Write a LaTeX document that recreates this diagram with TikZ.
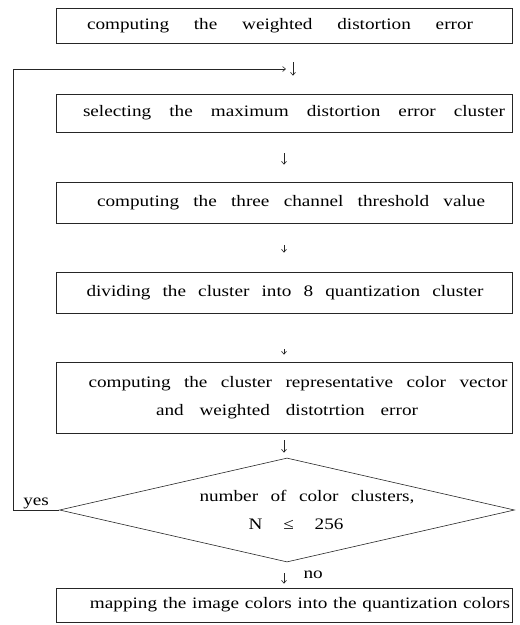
\documentclass[tikz,border=0pt]{standalone}
\usepackage{fontspec}
\setmainfont{Liberation Serif}[FakeStretch=1.2]
\usetikzlibrary{shapes.geometric,arrows.meta}

% spread a line of text to a given width, moved sideways by an offset
\newcommand{\spr}[3]{\hspace*{#1pt}\makebox[#2pt][s]{#3}\hspace*{-#1pt}}

\begin{document}
\begin{tikzpicture}[x=1pt, y=-1pt,
    txt/.style={font=\fontsize{16}{28}\selectfont},
    box/.style={txt, draw=black!85, line width=0.6pt, minimum width=456pt, inner sep=0pt, align=center},
    flow/.style={draw=black!85, line width=0.6pt, -{Straight Barb[length=3pt,width=5pt]}}]
  \useasboundingbox (0,0) rectangle (520,625);

  % process boxes
  \foreach \t/\y/\h [count=\i] in {
      {\spr{-4}{386}{computing the weighted distortion error}}/25.5/35,
      {\spr{10}{422}{selecting the maximum distortion error cluster}}/113/38,
      {\spr{7}{388}{computing the three channel threshold value}}/202.5/41,
      {\spr{1}{397}{dividing the cluster into 8 quantization cluster}}/292.5/41,
      {\spr{14}{419}{computing the cluster representative color vector}\\\spr{3}{262}{and weighted distotrtion error}}/397.5/71,
      {\spr{16}{420}{mapping the image colors into the quantization colors}}/605/34} {
    \node[box, minimum height=\h pt] (b\i) at (284,\y) {\t};
  }

  % decision
  \node[txt, diamond, draw=black!85, line width=0.6pt, aspect=4.4, minimum width=455pt,
        minimum height=104pt, inner sep=0pt, align=center] (dec) at (287,510)
    {\spr{20}{215}{number of color clusters,}\\\spr{9}{95}{N ≤ 256}};

  % arrows
  \draw[flow, shorten <=19pt, shorten >=18pt] ([xshift=9pt]b1.south) -- ([xshift=9pt]b2.north);
  \foreach \a/\b/\s/\e in {b2/b3/21/17, b3/b4/22/19, b4/b5/36/7} {
    \draw[flow, shorten <=\s pt, shorten >=\e pt] (\a.south) -- (\b.north);
  }
  \draw[flow, shorten <=7pt, shorten >=5pt] (b5.south) -- (b5.south |- dec.north);
  \draw[flow, shorten <=11pt, shorten >=4pt] (b6.north |- dec.south) -- node[txt, right=16pt] {no} (b6.north);

  % loop back
  \coordinate (loopcorner) at (13,69);
  \coordinate (loopend) at (286,69);
  \draw[flow] (dec.west) -| node[txt, pos=0.25, above, inner sep=1pt] {yes} (loopcorner) -- (loopend);
\end{tikzpicture}
\end{document}
